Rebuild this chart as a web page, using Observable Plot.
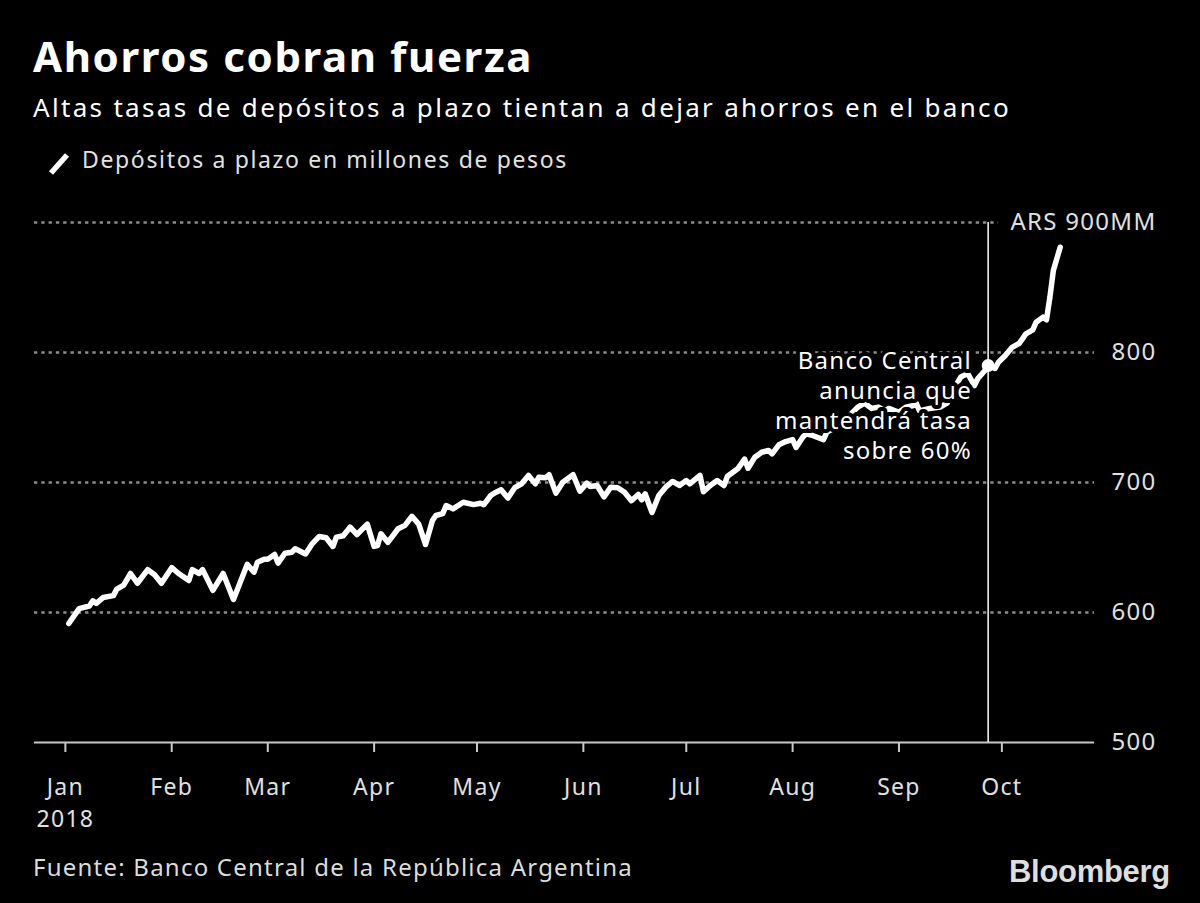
<!DOCTYPE html>
<html>
<head>
<meta charset="utf-8">
<script src="https://cdn.jsdelivr.net/npm/d3@7"></script>
<script src="https://cdn.jsdelivr.net/npm/@observablehq/plot@0.6"></script>
<style>
html, body { margin: 0; padding: 0; background: #000; }
#root { position: relative; width: 1200px; height: 903px; background: #000; overflow: hidden; font-family: "Noto Sans", sans-serif; color: #fff; }
.t { position: absolute; white-space: nowrap; line-height: 1; }
#title { left: 33px; top: 35px; font-size: 42px; font-weight: 700; color: #fff; }
#subtitle { left: 33px; top: 94px; font-size: 26px; color: #fff; }
#legend { left: 82px; top: 148px; font-size: 23px; color: #e2e2e2; }
#swatch { position: absolute; left: 46px; top: 148px; }
#source { left: 33px; top: 855px; font-size: 24px; color: #dcdcdc; }
#logo { left: 1009px; top: 856px; font-family: "Liberation Sans", Arial, sans-serif; font-weight: 700; font-size: 31px; color: #dedede; }
#chart { position: absolute; left: 0; top: 200px; }
</style>
</head>
<body>
<div id="root">
  <div class="t" id="title"></div>
  <div class="t" id="subtitle"></div>
  <svg id="swatch" width="28" height="30"><line x1="5" y1="25" x2="21" y2="7" stroke="#fff" stroke-width="5.5"/></svg>
  <div class="t" id="legend"></div>
  <div id="chart"></div>
  <div class="t" id="source"></div>
  <div class="t" id="logo"></div>
</div>
<script>
// ---- texts ----
const titleText = "Ahorros cobran fuerza";
const subtitleText = "Altas tasas de depósitos a plazo tientan a dejar ahorros en el banco";
const legendText = "Depósitos a plazo en millones de pesos";
const sourceText = "Fuente: Banco Central de la República Argentina";
const logoText = "Bloomberg";
const annotationText = "Banco Central\nanuncia que\nmantendrá tasa\nsobre 60%";

// ---- axes ----
const tickDates = ["2018-01-01","2018-02-01","2018-03-01","2018-04-01","2018-05-01","2018-06-01","2018-07-01","2018-08-01","2018-09-01","2018-10-01"];
const tickLabels = ["Jan\n2018","Feb","Mar","Apr","May","Jun","Jul","Aug","Sep","Oct"];
const yTicks = [500, 600, 700, 800, 900];
const yTickLabels = ["500", "600", "700", "800", "ARS 900MM"];
const xDomain = ["2017-12-23", "2018-10-28"];
const yDomain = [500, 900];

// ---- series: time deposits, millions of pesos ----
const dates = [
"2018-01-02","2018-01-05","2018-01-08","2018-01-09","2018-01-10","2018-01-12","2018-01-15","2018-01-16","2018-01-18","2018-01-20","2018-01-22","2018-01-25","2018-01-27","2018-01-29",
"2018-02-01","2018-02-03","2018-02-06","2018-02-07","2018-02-09","2018-02-10","2018-02-13","2018-02-16","2018-02-19","2018-02-23","2018-02-25","2018-02-26","2018-02-28",
"2018-03-01","2018-03-03","2018-03-04","2018-03-06","2018-03-08","2018-03-09","2018-03-12","2018-03-14","2018-03-16","2018-03-18","2018-03-20","2018-03-21","2018-03-23","2018-03-25","2018-03-27","2018-03-30",
"2018-04-01","2018-04-02","2018-04-03","2018-04-05","2018-04-08","2018-04-10","2018-04-12","2018-04-14","2018-04-16","2018-04-18","2018-04-19","2018-04-21","2018-04-22","2018-04-24","2018-04-27","2018-04-30",
"2018-05-02","2018-05-03","2018-05-05","2018-05-06","2018-05-08","2018-05-10","2018-05-12","2018-05-14","2018-05-16","2018-05-18","2018-05-19","2018-05-21","2018-05-22","2018-05-24","2018-05-26","2018-05-29","2018-05-31",
"2018-06-02","2018-06-03","2018-06-05","2018-06-07","2018-06-09","2018-06-11","2018-06-13","2018-06-15","2018-06-17","2018-06-18","2018-06-19","2018-06-21","2018-06-23","2018-06-25","2018-06-27","2018-06-29",
"2018-07-01","2018-07-02","2018-07-05","2018-07-06","2018-07-08","2018-07-10","2018-07-12","2018-07-13","2018-07-16","2018-07-18","2018-07-19","2018-07-21","2018-07-23","2018-07-25","2018-07-26","2018-07-28","2018-07-30",
"2018-08-01","2018-08-02","2018-08-04","2018-08-05","2018-08-07","2018-08-10","2018-08-11","2018-08-14","2018-08-17","2018-08-20","2018-08-22","2018-08-24","2018-08-26","2018-08-28","2018-08-29",
"2018-09-01","2018-09-03","2018-09-05","2018-09-06","2018-09-07","2018-09-10","2018-09-13","2018-09-15","2018-09-17","2018-09-19","2018-09-21","2018-09-23","2018-09-24","2018-09-26","2018-09-27","2018-09-29","2018-09-30",
"2018-10-02","2018-10-04","2018-10-06","2018-10-07","2018-10-08","2018-10-10","2018-10-11","2018-10-13","2018-10-14","2018-10-15","2018-10-16","2018-10-18"
];
const values = [
591.5,603,605,609,607,611.5,613,618,621,630,622.5,633,629,622.5,
634.5,630,624.6,633,630,633,617,630,610,637,631,638.7,641,
641,644.6,638,645.6,646.4,649,645,653,658.5,657.5,650.8,658,659,665.6,660,668,
650.8,651.5,660.5,654,664.4,667,674,668,652.3,670.8,674.6,676,682.3,679.7,684.8,683,
684,683,690,691.8,694.4,688,696,699,705.4,699,704,703.6,706,691.8,700.2,706,693.3,
699.5,697,697.7,689,696.4,696,692.5,686,690.8,686.7,691.3,677,690,696.4,700.8,697.7,
701.5,699,705.4,693,697.7,701.5,697.7,704.8,710.5,718,711,719.5,723.3,724.6,722,729,731.5,
733,727,735,737.5,736,733,738.7,743,750,758,761,757,758,755,757,
754,758,759,761,755,757,758,761,772,781,784,774.6,780,786,790,787.7,792.5,
797.7,804,806.9,810.5,814.4,817.4,823.3,827.2,825.2,842.5,863,881
];

// ---- event annotation ----
const eventDate = "2018-09-27";
const eventValue = 790;
const annotationDate = "2018-09-22";
const annotationValue = 760;
const grid900End = "2018-09-30";

document.getElementById("title").textContent = titleText;
document.getElementById("subtitle").textContent = subtitleText;
document.getElementById("legend").textContent = legendText;
document.getElementById("source").textContent = sourceText;
document.getElementById("logo").textContent = logoText;

// stretch the letter spacing so each text line spans the reference width
function fit(id, target) {
  const el = document.getElementById(id);
  el.style.letterSpacing = "0px";
  const w = el.getBoundingClientRect().width;
  const n = el.textContent.length;
  el.style.letterSpacing = ((target - w) / n).toFixed(3) + "px";
}
fit("title", 500);
fit("subtitle", 978);
fit("legend", 486);
fit("source", 600);
fit("logo", 161);

const data = dates.map((d, i) => ({date: new Date(d), value: values[i]}));
const labelMap = new Map(tickDates.map((d, i) => [+new Date(d), tickLabels[i]]));
const yLabelMap = new Map(yTicks.map((v, i) => [v, yTickLabels[i]]));
const gridColor = "#8c8c8c";
const axisColor = "#c8c8c8";

const chart = Plot.plot({
  width: 1200,
  height: 632,
  marginTop: 22,
  marginBottom: 90,
  marginLeft: 34,
  marginRight: 106,
  style: {background: "transparent", color: "#e0e0e0", fontFamily: "Noto Sans, sans-serif", fontSize: "23px", overflow: "visible", letterSpacing: "1.3px"},
  x: {type: "utc", domain: xDomain.map(d => new Date(d))},
  y: {domain: yDomain},
  marks: [
    Plot.gridY(yTicks.slice(1, 4), {stroke: gridColor, strokeOpacity: 1, strokeWidth: 2.5, strokeDasharray: "3.3,4"}),
    Plot.ruleY([yTicks[4]], {x1: new Date(xDomain[0]), x2: new Date(grid900End), stroke: gridColor, strokeWidth: 2.5, strokeDasharray: "3.3,4"}),
    Plot.ruleY([yDomain[0]], {stroke: axisColor, strokeWidth: 2}),
    Plot.axisX({ticks: tickDates.map(d => new Date(d)), tickSize: 10, tickPadding: 20, stroke: axisColor, strokeWidth: 2, tickFormat: d => labelMap.get(+d), lineHeight: 1.39, fill: "#e0e0e0", label: null}),
    Plot.axisY({anchor: "right", ticks: yTicks, tickSize: 0, tickPadding: 0, textAnchor: "end", dx: 62, tickFormat: d => yLabelMap.get(d), fill: "#e0e0e0", fontSize: 24, label: null}),
    Plot.ruleX([new Date(eventDate)], {y1: yDomain[0], y2: yDomain[1], stroke: "#fff", strokeWidth: 1.5}),
    Plot.line(data, {x: "date", y: "value", stroke: "#fff", strokeWidth: 5.5, strokeLinejoin: "round", strokeLinecap: "round"}),
    Plot.dot([{date: new Date(eventDate), value: eventValue}], {x: "date", y: "value", r: 6.5, fill: "#fff"}),
    Plot.text([{date: new Date(annotationDate), value: annotationValue, label: annotationText}], {x: "date", y: "value", text: "label", textAnchor: "end", lineAnchor: "middle", lineHeight: 1.25, dx: 1, fill: "#fff", stroke: "#000", strokeWidth: 8, fontSize: 24})
  ]
});
document.getElementById("chart").appendChild(chart);
</script>
</body>
</html>
